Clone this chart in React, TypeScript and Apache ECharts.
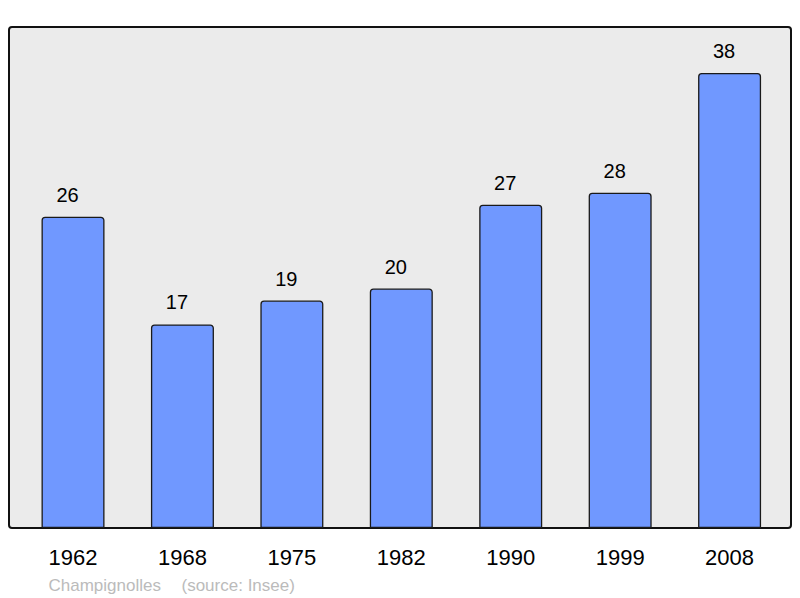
import React, { useEffect, useRef } from "react";
import * as echarts from "echarts";

const years = ["1962", "1968", "1975", "1982", "1990", "1999", "2008"];
const population = [26, 17, 19, 20, 27, 28, 38];
const footerPlace = "Champignolles";
const footerSource = "(source: Insee)";

const FONT = "'Liberation Sans', Arial, sans-serif";

export default function App() {
  const ref = useRef<HTMLDivElement>(null);
  useEffect(() => {
    const chart = echarts.init(ref.current!, null, { renderer: "svg" });
    chart.setOption({
      animation: false,
      backgroundColor: "#ffffff",
      textStyle: { fontFamily: FONT },
      graphic: [
        {
          type: "rect",
          z: -10,
          shape: { x: 9, y: 27, width: 782, height: 501, r: 3 },
          style: { fill: "#ebebeb", stroke: "#111111", lineWidth: 2 },
        },
        {
          type: "text",
          x: 48.5,
          y: 585,
          style: {
            text: footerPlace,
            fill: "#bbbbbb",
            font: "17px " + FONT,
            verticalAlign: "middle",
          },
        },
        {
          type: "text",
          x: 181.5,
          y: 585,
          style: {
            text: footerSource,
            fill: "#bbbbbb",
            font: "17px " + FONT,
            verticalAlign: "middle",
          },
        },
      ],
      grid: { left: 18.3, top: 27.5, width: 766, height: 500.5 },
      xAxis: {
        type: "category",
        data: years,
        axisLine: { show: false },
        axisTick: { show: false },
        axisLabel: {
          color: "#000",
          fontSize: 22,
          margin: 18,
          fontFamily: FONT,
        },
      },
      yAxis: {
        type: "value",
        min: 0,
        max: 41.8,
        show: false,
        splitLine: { show: false },
      },
      series: [
        {
          type: "bar",
          data: population,
          barWidth: 63,
          itemStyle: {
            color: "#7098ff",
            borderColor: "#1a1a1a",
            borderWidth: 1.3,
            borderRadius: [3, 3, 0, 0],
          },
          label: {
            show: true,
            position: "top",
            distance: 12,
            offset: [-5.5, 0],
            color: "#000",
            fontSize: 20,
            fontFamily: FONT,
          },
        },
      ],
    });
    return () => chart.dispose();
  }, []);
  return (
    <div
      ref={ref}
      style={{ position: "fixed", left: 0, top: 0, width: 800, height: 598 }}
    />
  );
}
